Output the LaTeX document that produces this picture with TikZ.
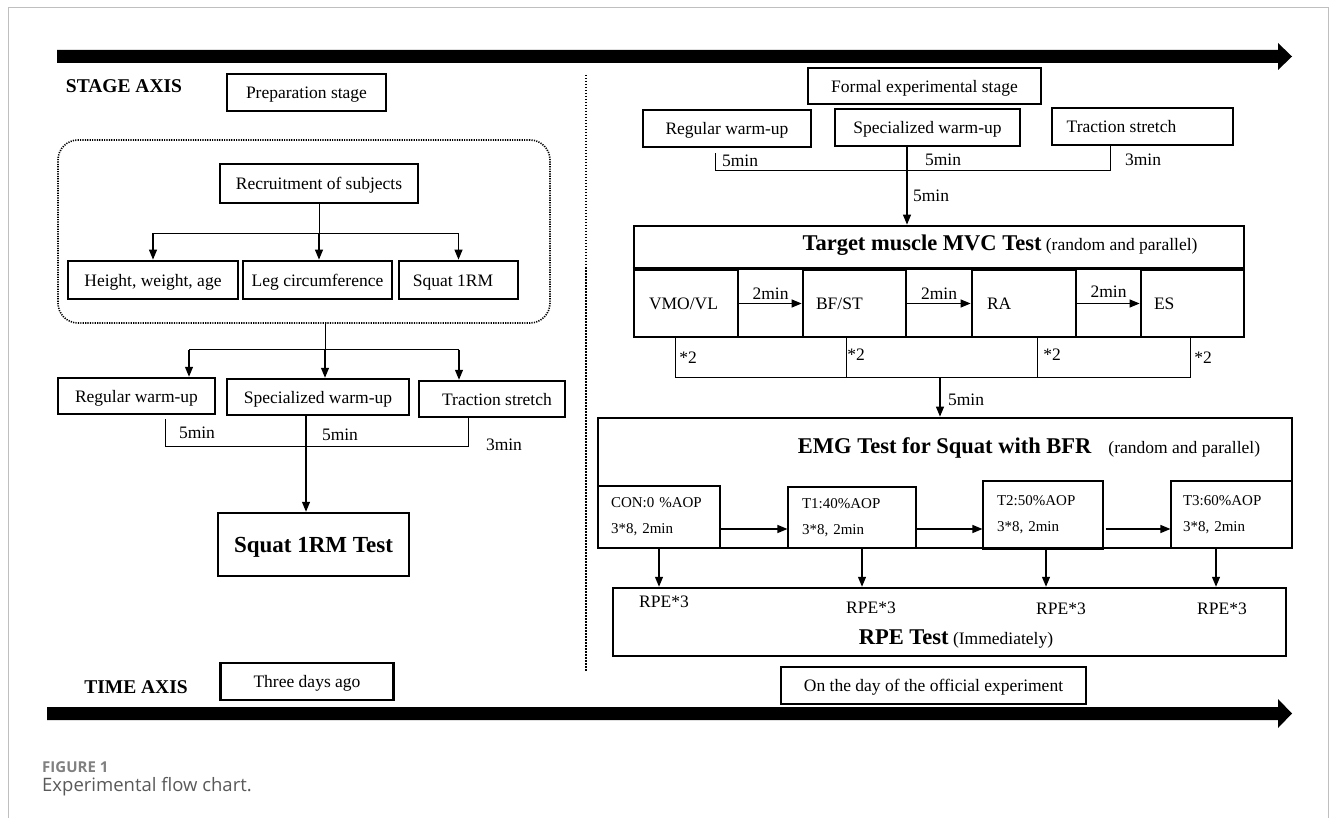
\documentclass[tikz,border=0pt]{standalone}
\usepackage{fontspec}
\setmainfont{Liberation Serif}
\newfontfamily\capfont{Open Sans}
\usetikzlibrary{arrows.meta}
\newcommand\fA{\fontsize{17.5}{21}\selectfont}
\newcommand\fB{\fontsize{19.5}{23}\selectfont\bfseries}
\newcommand\fC{\fontsize{23}{27}\selectfont\bfseries}
\newcommand\fD{\fontsize{15}{26}\selectfont}
\newcommand\fT{\fontsize{22.5}{26}\selectfont\bfseries}
\tikzset{
  bx/.style={draw, line width=2.5pt, inner sep=0pt, font=\fA, text height=14.5pt, text depth=2pt},
  bxthin/.style={draw, line width=1.1pt, font=\fD, align=left, inner ysep=0pt},
  arr/.style={line width=1.2pt, -{Triangle[length=10pt,width=8pt]}},
  ln/.style={line width=1pt},
  lbl/.style={inner sep=0pt, font=\fA},
  axislbl/.style={inner sep=0pt, font=\fB},
}
\begin{document}
\begin{tikzpicture}[x=1pt,y=-1pt]
\useasboundingbox (0,0) rectangle (1333,818);
% frame
\draw[black!25, line width=1pt] (8,818) -- (8,8) -- (1328,8) -- (1328,818);
% axis arrows
\fill (57,50) -- (1278,50) -- (1278,43) -- (1292,56.5) -- (1278,70) -- (1278,63) -- (57,63) -- cycle;
\fill (47,707) -- (1278,707) -- (1278,699) -- (1292,713.5) -- (1278,728) -- (1278,720) -- (47,720) -- cycle;
% dotted divider
\draw[line width=2pt, dash pattern=on 1.5pt off 1.5pt] (586,75) -- (586,672);

% ---------- left side ----------
\node[axislbl] (stageaxis) at (124,86) {STAGE AXIS};
\node[bx, minimum width=159, minimum height=37] (prep) at (306.5,92.5) {Preparation stage};
\node[draw, line width=1.6pt, dash pattern=on 1.2pt off 1.2pt, rounded corners=20pt,
      minimum width=492, minimum height=183] (grp) at (304,231.5) {};
\node[bx, minimum width=198, minimum height=39] (recruit) at (319,183.5) {Recruitment of subjects};
\node[bx, line width=2.8pt, minimum width=170, minimum height=38] (hwa) at (153,280) {Height, weight, age};
\node[bx, line width=2.8pt, minimum width=149, minimum height=38] (leg) at (317.5,280) {Leg circumference};
\node[bx, line width=2.8pt, minimum width=119, minimum height=38] (sq) at (458.5,280) {Squat 1RM\hspace*{11pt}};

\node[bx, minimum width=157, minimum height=36] (reg) at (136.5,396) {Regular warm-up};
\node[bx, minimum width=182, minimum height=36] (spec) at (318,397) {Specialized warm-up};
\node[bx, minimum width=146, minimum height=36] (trac) at (492,399) {\hspace*{10pt}Traction stretch};
\node[bx, minimum width=191, minimum height=63, font=\fC, text height=18pt, text depth=3pt] (sqt) at (313.5,544.5) {Squat 1RM Test};
\node[lbl] (m1) at (197,433) {5min};
\node[lbl] (m2) at (340,435) {5min};
\node[lbl] (m3) at (504,445) {3min};
\node[axislbl] (timeaxis) at (136,687) {TIME AXIS};
\node[bx, minimum width=173, minimum height=37] (three) at (307,681.5) {Three days ago};

% fork 1
\draw[ln] (recruit.south) -- ++(0,29) coordinate (f1);
\draw[ln] (f1 -| hwa.north) -- (f1 -| sq.north);
\draw[arr] (f1 -| hwa.north) -- (hwa.north);
\draw[arr] (f1) -- (f1 |- leg.north);
\draw[arr] (f1 -| sq.north) -- (sq.north);
% fork 2
\draw[ln] ([xshift=21pt]grp.south) -- ++(0,26) coordinate (f2);
\coordinate (regin) at ([xshift=52.5pt]reg.north);
\coordinate (tracin) at ([xshift=-33pt]trac.north);
\draw[ln] (f2 -| regin) -- (f2 -| tracin);
\draw[arr] (f2 -| regin) -- (regin);
\draw[arr] (f2) -- (f2 |- spec.north);
\draw[arr] (f2 -| tracin) -- (tracin);
% timing left
\coordinate (rl) at ([xshift=28.5pt,yshift=-4pt]reg.south);
\coordinate (tr) at ([xshift=-24pt]trac.south);
\coordinate (tb) at (0,446);
\draw[ln] (rl) |- (tr |- tb) -- (tr);
\coordinate (sp) at ([xshift=-12pt]spec.south);
\draw[arr] (sp) -- (sp |- sqt.north);

% ---------- right side ----------
\node[bx, minimum width=233, minimum height=36] (formal) at (924.5,86) {Formal experimental stage};
\node[bx, minimum width=168, minimum height=37] (rreg) at (727,128.5) {Regular warm-up};
\node[bx, minimum width=185, minimum height=37] (rspec) at (927.5,127.5) {Specialized warm-up};
\node[bx, minimum width=181, minimum height=37] (rtrac) at (1142.5,126.5) {Traction stretch\hspace*{42pt}};
\node[lbl] (rm1) at (740,161) {5min};
\node[lbl] (rm2) at (943,160) {5min};
\node[lbl] (rm3) at (1143,160) {3min};
\node[lbl] (rm4) at (931,196) {5min};

\node[bx, line width=2.8pt, minimum width=610, minimum height=111] (mvc) at (939,281.5) {};
\node[lbl] (mvct) at (1000,245) {{\fT Target muscle MVC Test} (random and parallel)};
\node[bx, line width=2.8pt, minimum width=104, minimum height=67] (vmo) at (686,303.5) {\makebox[74pt][l]{VMO/VL}};
\node[bx, line width=2.8pt, minimum width=103, minimum height=67] (bfst) at (854.5,303.5) {\makebox[77pt][l]{BF/ST}};
\node[bx, line width=2.8pt, minimum width=104, minimum height=67] (ra) at (1024,303.5) {\makebox[74pt][l]{RA}};
\node[bx, line width=2.8pt, minimum width=103, minimum height=67] (es) at (1192.5,303.5) {\makebox[77pt][l]{ES}};
\draw[line width=2.8pt] (mvc.west |- vmo.north) -- (mvc.east |- vmo.north);

\coordinate (rrl) at ([xshift=-12pt,yshift=-5pt]rreg.south);
\coordinate (rtr) at ([xshift=-32.5pt]rtrac.south);
\coordinate (rtb) at (0,171);
\draw[ln] (rrl) |- (rtr |- rtb) -- (rtr);
\coordinate (rsp) at ([xshift=-20.5pt]rspec.south);
\draw[arr] (rsp) -- (rsp |- mvc.north);

\draw[arr] (vmo) -- (bfst) node[midway, above=3pt, lbl] (l1) {2min};
\draw[arr] (bfst) -- (ra) node[midway, above=3pt, lbl] (l2) {2min};
\draw[arr] (ra) -- (es) node[midway, above=5pt, lbl] (l3) {2min};

\coordinate (b1) at ([xshift=-11pt]vmo.south);
\coordinate (b2) at ([xshift=-8.5pt]bfst.south);
\coordinate (b3) at ([xshift=13pt]ra.south);
\coordinate (b4) at ([xshift=-2.5pt]es.south);
\coordinate (bb) at (0,377);
\draw[ln] (b1) -- (b1 |- bb) -- (b4 |- bb) -- (b4);
\draw[ln] (b2) -- (b2 |- bb);
\draw[ln] (b3) -- (b3 |- bb);
\node[lbl] (s1) at (688,358) {*2};
\node[lbl] (s2) at (856,355) {*2};
\node[lbl] (s3) at (1052,355) {*2};
\node[lbl] (s4) at (1203,358) {*2};

\node[bx, line width=2.8pt, minimum width=694, minimum height=130] (emg) at (945,483) {};
\coordinate (bm) at (940,377);
\draw[arr] (bm) -- (bm |- emg.north);
\node[lbl] (rm5) at (966,400) {5min};
\node[lbl] (emgt) at (1029,448) {{\fT EMG Test for Squat with BFR}\hspace{17pt}(random and parallel)};

\node[bxthin, line width=2.8pt, text width=96pt, inner xsep=13pt, minimum height=62] (con) at (659,517) {CON:0 \%AOP\\3*8, 2min};
\node[bxthin, text width=100pt, inner xsep=14pt, minimum height=61] (t1) at (852,517.5) {T1:40\%AOP\\3*8, 2min};
\node[bxthin, text width=92pt, inner xsep=14pt, minimum height=68] (t2) at (1043,515) {T2:50\%AOP\\3*8, 2min};
\node[bxthin, text width=97pt, inner xsep=12pt, minimum height=67] (t3) at (1231.5,514.5) {T3:60\%AOP\\3*8, 2min};

\coordinate (a1) at ([yshift=-12pt]con.east);
\draw[arr] (a1) -- (a1 -| t1.west);
\coordinate (a2) at ([yshift=-11.5pt]t1.east);
\draw[arr] (a2) -- (a2 -| t2.west);
\coordinate (a3) at ([xshift=2pt,yshift=-14pt]t2.east);
\draw[arr] (a3) -- (a3 -| t3.west);

\node[bx, minimum width=673, minimum height=68] (rpe) at (949.5,622) {};
\draw[arr] (con.south) -- (con.south |- rpe.north);
\coordinate (d1) at ([xshift=10pt]t1.south);
\draw[arr] (d1) -- (d1 |- rpe.north);
\coordinate (d2) at ([xshift=3pt]t2.south);
\draw[arr] (d2) -- (d2 |- rpe.north);
\coordinate (d3) at ([xshift=-15.5pt]t3.south);
\draw[arr] (d3) -- (d3 |- rpe.north);
\node[lbl] (r1) at (664,602) {RPE*3};
\node[lbl] (r2) at (871,608) {RPE*3};
\node[lbl] (r3) at (1061,609) {RPE*3};
\node[lbl] (r4) at (1222,609) {RPE*3};
\node[lbl] (rpet) at (956,639) {{\fT RPE Test} (Immediately)};
\node[bx, minimum width=305, minimum height=37] (day) at (933.5,685.5) {On the day of the official experiment};

% caption
\node[anchor=west, inner sep=0pt, font=\capfont\bfseries\fontsize{15}{18}\selectfont, text=black!50] (fig) at (42,767) {FIGURE 1};
\node[anchor=west, inner sep=0pt, font=\capfont\fontsize{18.5}{22}\selectfont, text=black!65] (cap) at (42,787) {Experimental flow chart.};
\end{tikzpicture}
\end{document}
